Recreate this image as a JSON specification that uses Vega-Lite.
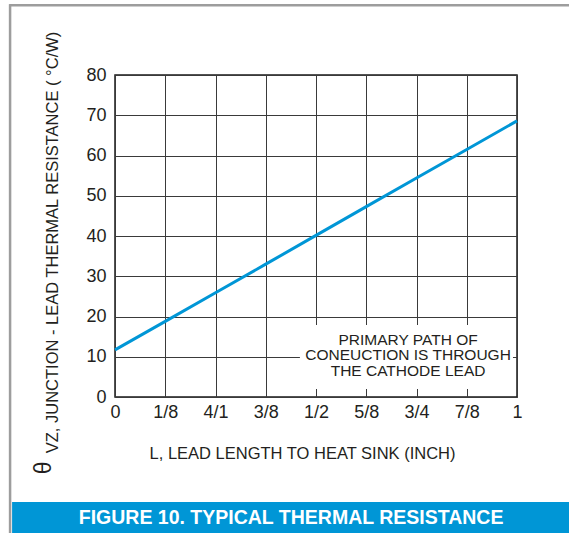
{
  "$schema": "https://vega.github.io/schema/vega-lite/v6.json",
  "width": 402,
  "height": 322,
  "autosize": "none",
  "padding": {"left": 115, "top": 75, "right": 52, "bottom": 136},
  "background": "white",
  "config": {
    "font": "Liberation Sans",
    "view": {"stroke": "#1a1a1a", "strokeWidth": 1.5},
    "axis": {"labelFont": "Liberation Sans", "titleFont": "Liberation Sans", "labelColor": "#231f20", "titleColor": "#231f20", "titleFontWeight": "normal"}
  },
  "layer": [
    {
      "data": {"values": [
        {"L": 0, "R": 11.7},
        {"L": 0.125, "R": 18.8},
        {"L": 0.25, "R": 25.9},
        {"L": 0.375, "R": 33.0},
        {"L": 0.5, "R": 40.15},
        {"L": 0.625, "R": 47.3},
        {"L": 0.75, "R": 54.4},
        {"L": 0.875, "R": 61.5},
        {"L": 1, "R": 68.6}
      ]},
      "mark": {"type": "line", "color": "#0096d6", "strokeWidth": 3},
      "encoding": {
        "x": {
          "field": "L", "type": "quantitative",
          "scale": {"domain": [0, 1], "nice": false, "zero": false},
          "axis": {
            "values": [0, 0.125, 0.25, 0.375, 0.5, 0.625, 0.75, 0.875, 1],
            "labelExpr": "['0','1/8','4/1','3/8','1/2','5/8','3/4','7/8','1'][round(datum.value*8)]",
            "labelFontSize": 18, "labelPadding": 6, "ticks": false, "domain": false,
            "grid": true, "gridColor": "#3a3a3a", "gridWidth": 1, "gridOpacity": 1,
            "title": "L, LEAD LENGTH TO HEAT SINK (INCH)", "titleFontSize": 16.5,
            "titleX": 187, "titleY": 56, "titleAnchor": null, "titleAlign": "center", "titleBaseline": "middle",
            "labelFlush": false
          }
        },
        "y": {
          "field": "R", "type": "quantitative",
          "scale": {"domain": [0, 80], "nice": false},
          "axis": {
            "values": [0, 10, 20, 30, 40, 50, 60, 70, 80],
            "labelFontSize": 18, "labelPadding": 9, "ticks": false, "domain": false,
            "grid": true, "gridColor": "#3a3a3a", "gridWidth": 1, "gridOpacity": 1,
            "title": "VZ, JUNCTION - LEAD THERMAL RESISTANCE  ( °C/W)", "titleFontSize": 16.5,
            "titleX": -63, "titleY": 167, "titleAngle": -90, "titleAlign": "center", "titleBaseline": "middle",
            "labelFlush": false
          }
        }
      }
    },
    {
      "data": {"values": [{"s": "θ"}]},
      "mark": {"type": "text", "fontSize": 23, "angle": 270, "color": "#231f20", "align": "center", "baseline": "middle"},
      "encoding": {
        "x": {"datum": -0.177, "type": "quantitative"},
        "y": {"datum": -17.6, "type": "quantitative"},
        "text": {"field": "s"}
      }
    },
    {
      "data": {"values": [{}]},
      "mark": {"type": "rect", "fill": "white", "stroke": null},
      "encoding": {
        "x": {"datum": 0.46, "type": "quantitative"},
        "x2": {"datum": 0.99},
        "y": {"datum": 17.9, "type": "quantitative"},
        "y2": {"datum": 2.0}
      }
    },
    {
      "data": {"values": [{"note": "PRIMARY PATH OF\nCONEUCTION IS THROUGH\nTHE CATHODE LEAD"}]},
      "mark": {"type": "text", "fontSize": 15.5, "lineHeight": 15.5, "lineBreak": "\n", "color": "#231f20", "align": "center", "baseline": "middle"},
      "encoding": {
        "x": {"datum": 0.729, "type": "quantitative"},
        "y": {"datum": 14.2, "type": "quantitative"},
        "text": {"field": "note"}
      }
    },
    {
      "data": {"values": [{}]},
      "mark": {"type": "rect", "fill": "#0096d6", "stroke": null},
      "encoding": {
        "x": {"datum": -0.256, "type": "quantitative"},
        "x2": {"datum": 1.15},
        "y": {"datum": -26.1, "type": "quantitative"},
        "y2": {"datum": -34}
      }
    },
    {
      "data": {"values": [{"t": "FIGURE 10. TYPICAL THERMAL RESISTANCE"}]},
      "mark": {"type": "text", "fontSize": 19.5, "fontWeight": "bold", "color": "white", "align": "center", "baseline": "middle"},
      "encoding": {
        "x": {"datum": 0.438, "type": "quantitative"},
        "y": {"datum": -30.0, "type": "quantitative"},
        "text": {"field": "t"}
      }
    },
    {
      "data": {"values": [{}]},
      "mark": {"type": "rule", "color": "#9d9d9d", "strokeWidth": 2.5},
      "encoding": {
        "x": {"datum": -0.263, "type": "quantitative"},
        "x2": {"datum": 1.15},
        "y": {"datum": 97.3, "type": "quantitative"}
      }
    },
    {
      "data": {"values": [{}]},
      "mark": {"type": "rule", "color": "#9d9d9d", "strokeWidth": 2.5},
      "encoding": {
        "x": {"datum": -0.261, "type": "quantitative"},
        "y": {"datum": 97.6, "type": "quantitative"},
        "y2": {"datum": -34}
      }
    }
  ]
}
